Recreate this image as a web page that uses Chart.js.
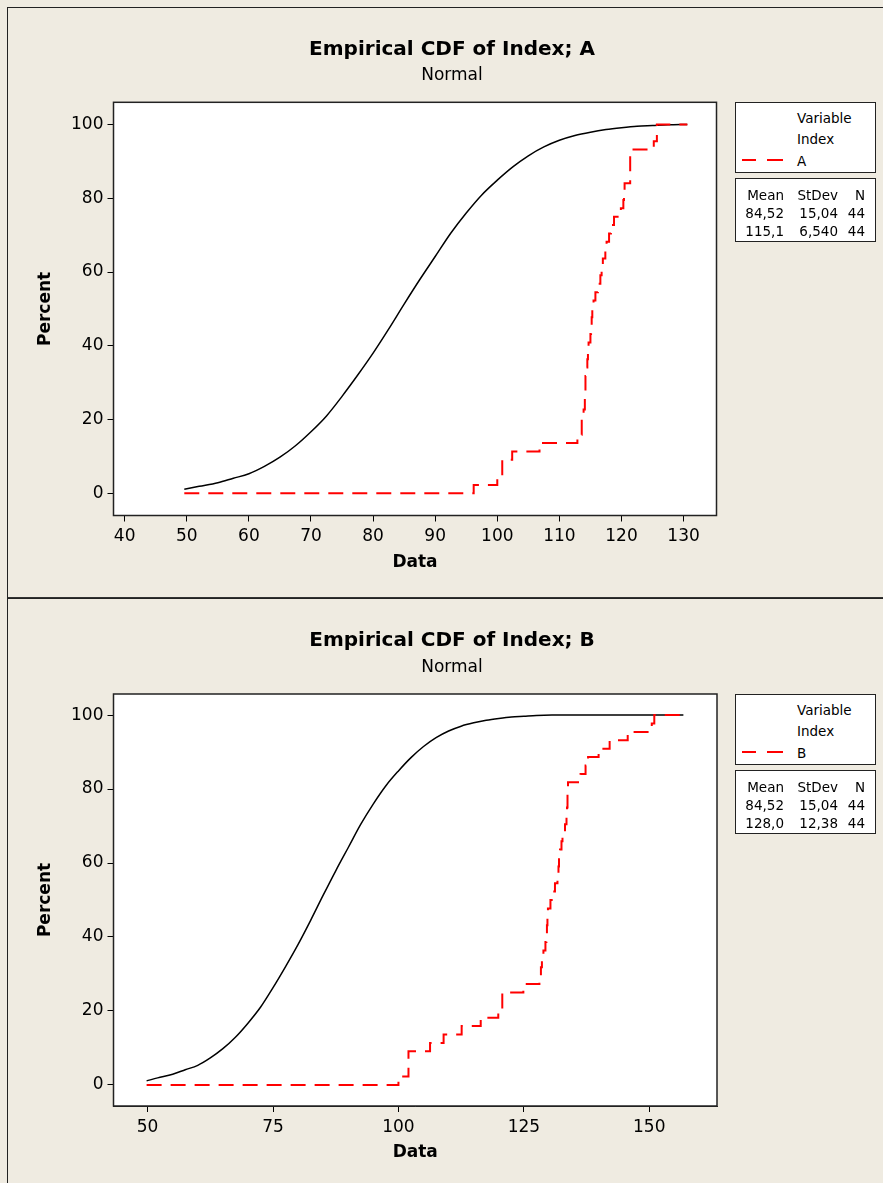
<!DOCTYPE html>
<html>
<head>
<meta charset="utf-8">
<title>Empirical CDF of Index</title>
<script src="https://cdn.jsdelivr.net/npm/chart.js@4/dist/chart.umd.min.js"></script>
<style>
  html, body { margin: 0; padding: 0; }
  body {
    width: 883px; height: 1183px; position: relative; overflow: hidden;
    background: #efebe1; font-family: 'DejaVu Sans', sans-serif; color: #000;
  }
  .panel { position: absolute; left: 7px; width: 900px; border-left: 1px solid #222; border-top: 1px solid #222; }
  #panelA { top: 7px; height: 589px; border-bottom: 2px solid #333; }
  #panelB { top: 598px; height: 600px; }
  .panel canvas { position: absolute; left: 0; top: 0; }
  .box { position: absolute; left: 735px; width: 141px; box-sizing: border-box; background: #fff; border: 1.5px solid #222; }
  .box span { position: absolute; font-size: 13.5px; line-height: 18px; white-space: nowrap; }
  .box span.num { width: 60px; text-align: right; }
  .dash { position: absolute; height: 2px; background: #ff0000; }
</style>
</head>
<body>
<div class="panel" id="panelA"><canvas id="chartA" width="875" height="589"></canvas></div>
<div class="panel" id="panelB"><canvas id="chartB" width="875" height="584"></canvas></div>
<script>
const FONT = "'DejaVu Sans', sans-serif";

// Index group (black), percent; same group in both panels
const indexX   = [49.6, 52, 55, 57.5, 60, 62.5, 65, 67.5, 70, 72.5, 75, 77.5, 80, 82.5, 85, 87.5, 90,
                  92.5, 95, 97.5, 100, 102.5, 105, 107.5, 110, 112.5, 115, 117.5, 120, 122.5, 125, 127.5, 130.6];
const indexPct = [1.1, 1.9, 2.9, 4.1, 5.3, 7.3, 9.8, 12.9, 16.7, 21.0, 26.3, 32.0, 38.0, 44.5, 51.3, 57.9, 64.2,
                  70.5, 76.0, 80.9, 84.9, 88.5, 91.5, 93.9, 95.7, 97.0, 97.9, 98.6, 99.1, 99.5, 99.7, 99.9, 100];

// sample A (44 values, red steps)
const sampleA = [96.2, 100.0, 100.8, 100.8, 102.4, 106.8, 112.9, 113.6, 113.6, 113.9,
                 114.1, 114.1, 114.2, 114.2, 114.3, 114.5, 114.6, 114.7, 115.0, 115.1,
                 115.2, 115.3, 115.5, 115.8, 116.2, 116.6, 116.8, 117.0, 117.4, 117.6,
                 118.0, 118.3, 118.8, 119.9, 120.3, 120.4, 120.5, 121.4, 121.4, 121.4,
                 121.4, 125.2, 125.7, 125.7];

// sample B (44 values, red steps)
const sampleB = [100.0, 102.0, 102.0, 102.0, 106.3, 109.0, 112.6, 116.4, 119.9, 120.7,
                 120.7, 124.9, 128.1, 128.4, 128.6, 128.9, 129.3, 129.5, 129.6, 129.7,
                 129.8, 130.3, 130.8, 131.2, 131.7, 131.9, 132.0, 132.2, 132.5, 132.7,
                 133.2, 133.5, 133.6, 133.7, 133.7, 133.8, 136.3, 137.3, 137.8, 139.9,
                 142.1, 145.7, 150.5, 151.0];

const rangeA = [49.6, 130.6];
const rangeB = [49.8, 156.8];

const xTicksA = [40, 50, 60, 70, 80, 90, 100, 110, 120, 130];
const xTicksB = [50, 75, 100, 125, 150];
const pctTicks = [0, 20, 40, 60, 80, 100];

const statsHead = ['Mean', 'StDev', 'N'];
const statsA = [['84,52', '15,04', '44'], ['115,1', '6,540', '44']];
const statsB = [['84,52', '15,04', '44'], ['128,0', '12,38', '44']];

function ecdf(sample, range) {
  const sorted = [...sample].sort((a, b) => a - b);
  const n = sorted.length;
  const pts = [{ x: range[0], y: 0 }];
  sorted.forEach((v, i) => pts.push({ x: v, y: (i + 1) / n * 100 }));
  pts.push({ x: range[1], y: 100 });
  return pts;
}

function curve(range) {
  const pts = indexX.map((x, i) => ({ x, y: indexPct[i] }));
  pts[0].x = range[0];
  if (range[1] > pts[pts.length - 1].x) pts.push({ x: range[1], y: 100 });
  return pts;
}

// white plot background and a full frame round it
const plotFrame = {
  id: 'plotFrame',
  beforeDraw(chart) {
    const { ctx, chartArea: a } = chart;
    ctx.save();
    ctx.fillStyle = '#fff';
    ctx.fillRect(a.left, a.top, a.width, a.height);
    ctx.restore();
  },
  afterDraw(chart) {
    const { ctx, chartArea: a } = chart;
    ctx.save();
    ctx.strokeStyle = '#222';
    ctx.lineWidth = 1.5;
    ctx.strokeRect(a.left, a.top, a.width, a.height);
    ctx.restore();
  }
};

function buildChart(id, cfg) {
  new Chart(document.getElementById(id), {
    type: 'line',
    data: {
      datasets: [
        {
          data: ecdf(cfg.sample, cfg.range),
          borderColor: '#ff0000',
          borderWidth: 2,
          borderDash: [15, 9],
          stepped: 'before',
          pointRadius: 0,
          fill: false,
          order: 0
        },
        {
          data: curve(cfg.range),
          borderColor: '#000',
          borderWidth: 1.5,
          cubicInterpolationMode: 'monotone',
          pointRadius: 0,
          fill: false,
          order: 1
        }
      ]
    },
    options: {
      responsive: false,
      animation: false,
      devicePixelRatio: 1,
      // left padding shifts the title centre; the empty right axis keeps room for the legend boxes
      layout: { padding: { left: 13, right: 0, top: 0, bottom: 0 } },
      plugins: {
        legend: { display: false },
        tooltip: { enabled: false },
        title: {
          display: true, text: cfg.title, color: '#000',
          font: { family: FONT, size: 20, weight: 'bold' },
          padding: { top: 30, bottom: 0 }
        },
        subtitle: {
          display: true, text: 'Normal', color: '#000',
          font: { family: FONT, size: 17 },
          padding: { top: cfg.subTop, bottom: cfg.subBottom }
        }
      },
      scales: {
        x: {
          type: 'linear', min: cfg.xMin, max: cfg.xMax,
          afterBuildTicks: s => { s.ticks = cfg.xTicks.map(v => ({ value: v })); },
          afterFit: s => { s.height = cfg.xHeight; },
          ticks: { color: '#000', font: { family: FONT, size: 17 }, padding: 5, maxRotation: 0, autoSkip: false },
          grid: { drawOnChartArea: false, drawTicks: true, tickLength: 6, color: '#000' },
          border: { display: true, color: '#222' },
          title: {
            display: true, text: 'Data', color: '#000',
            font: { family: FONT, size: 17, weight: 'bold' },
            padding: { top: 0, bottom: cfg.dataPad }
          }
        },
        y: {
          type: 'linear', min: cfg.yMin, max: cfg.yMax,
          afterBuildTicks: s => { s.ticks = pctTicks.map(v => ({ value: v })); },
          afterFit: s => { s.width = cfg.yWidth - 13; },
          ticks: { color: '#000', font: { family: FONT, size: 17 }, padding: 4 },
          grid: { drawOnChartArea: false, drawTicks: true, tickLength: 6, color: '#000' },
          border: { display: true, color: '#222' },
          title: {
            display: true, text: 'Percent', color: '#000',
            font: { family: FONT, size: 17, weight: 'bold' },
            padding: { top: 14, bottom: 0 }
          }
        },
        side: {
          type: 'linear', position: 'right', min: cfg.yMin, max: cfg.yMax,
          afterFit: s => { s.width = cfg.padRight; },
          ticks: { display: false },
          grid: { display: false },
          border: { display: false }
        }
      }
    },
    plugins: [plotFrame]
  });
}

function addLegend(top, group, stats) {
  const box1 = document.createElement('div');
  box1.className = 'box';
  box1.style.top = top + 'px';
  box1.style.height = '71px';
  box1.innerHTML = `
    <span style="left:61px;top:6px">Variable</span>
    <span style="left:61px;top:27px">Index</span>
    <span style="left:61px;top:49px">${group}</span>
    <div class="dash" style="left:6px;top:56px;width:14px"></div>
    <div class="dash" style="left:31px;top:56px;width:16px"></div>`;
  document.body.appendChild(box1);

  const box2 = document.createElement('div');
  box2.className = 'box';
  box2.style.top = (top + 76) + 'px';
  box2.style.height = '64px';
  const edges = [48, 102, 129];
  const rows = [statsHead, ...stats];
  box2.innerHTML = rows.map((row, r) =>
    row.map((txt, c) =>
      `<span class="num" style="left:${edges[c] - 60}px;top:${7 + r * 18}px">${txt}</span>`
    ).join('')
  ).join('');
  document.body.appendChild(box2);
}

buildChart('chartA', {
  title: 'Empirical CDF of Index; A',
  sample: sampleA, range: rangeA, xTicks: xTicksA,
  xMin: 38.2, xMax: 135.3, yMin: -6, yMax: 106,
  padRight: 166.5, yWidth: 105.5, xHeight: 81.5,
  subTop: 3.8, subBottom: 16.1, dataPad: 24
});

buildChart('chartB', {
  title: 'Empirical CDF of Index; B',
  sample: sampleB, range: rangeB, xTicks: xTicksB,
  xMin: 43.2, xMax: 163.5, yMin: -5.7, yMax: 105.7,
  padRight: 166, yWidth: 105.5, xHeight: 77,
  subTop: 4.8, subBottom: 15.8, dataPad: 20
});

addLegend(102, 'A', statsA);
addLegend(694, 'B', statsB);
</script>
</body>
</html>
